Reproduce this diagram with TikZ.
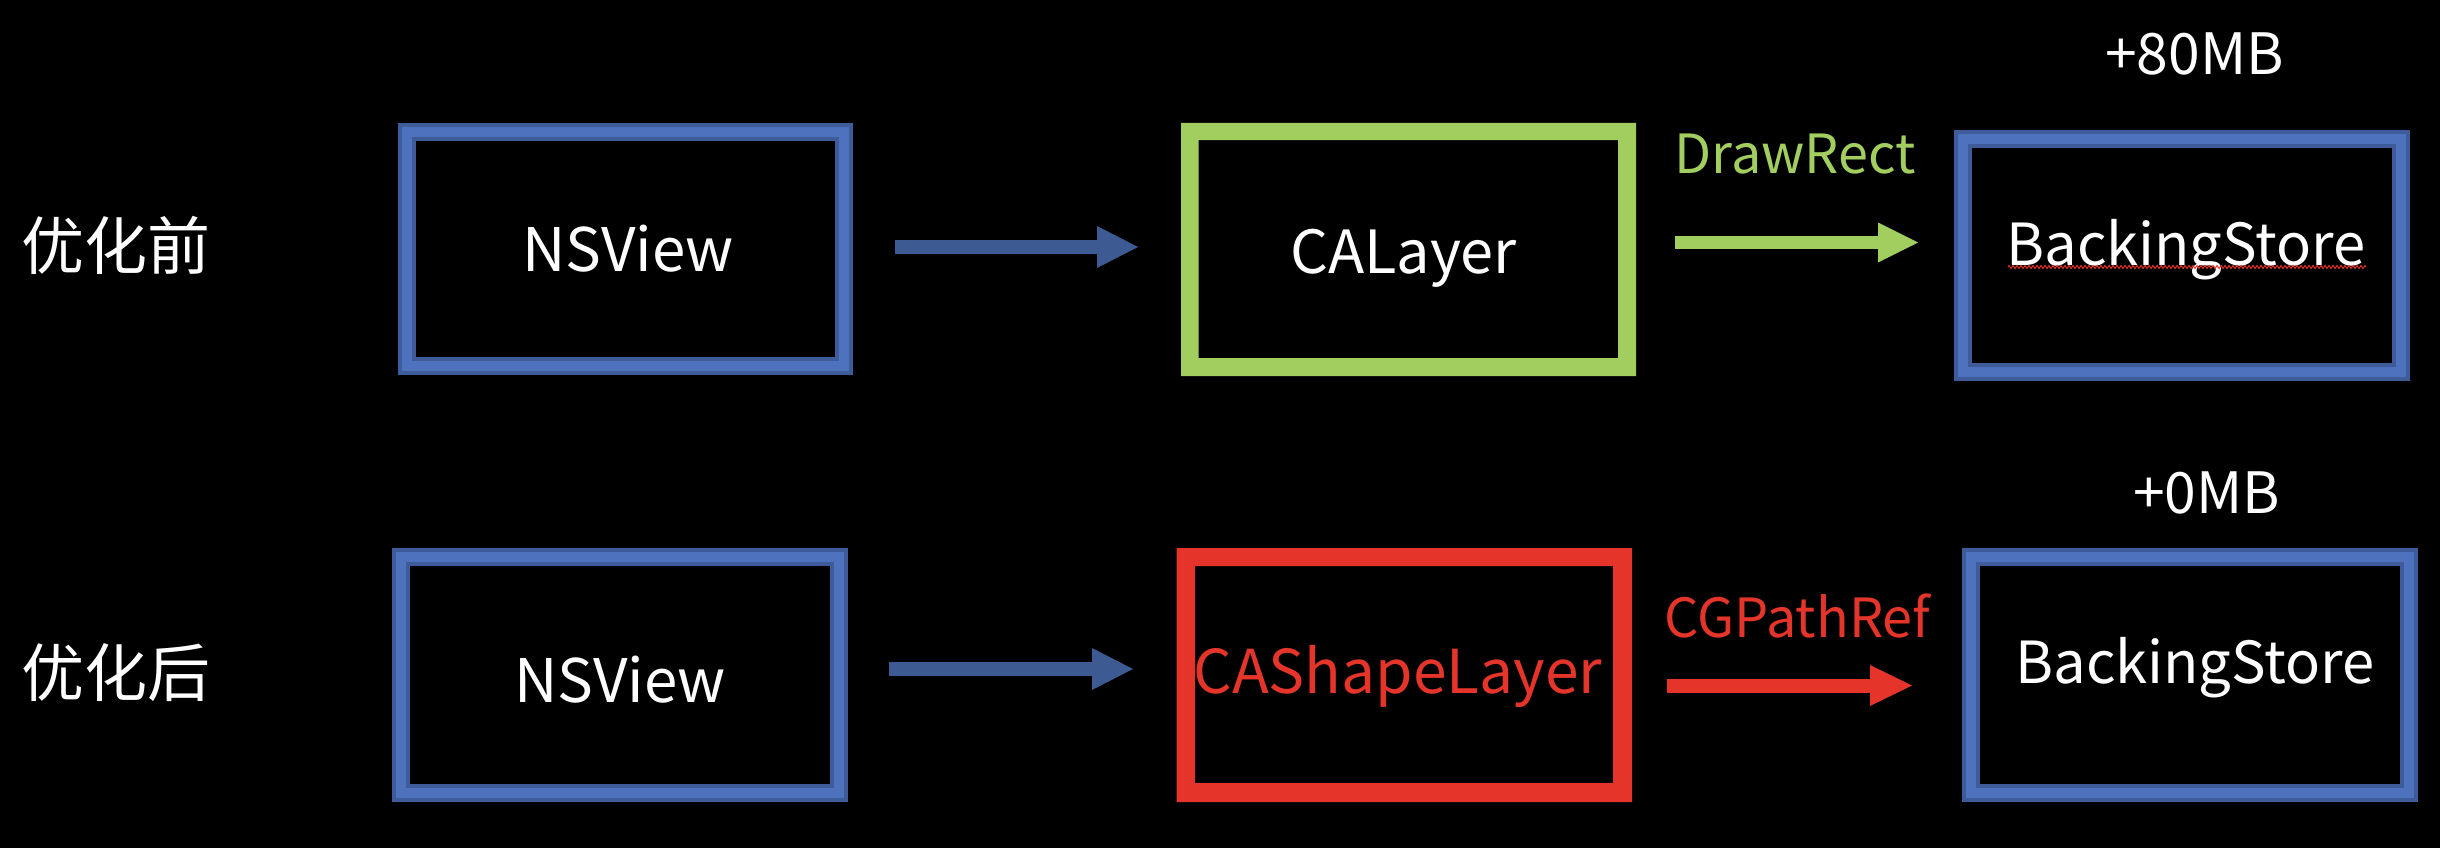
\documentclass[tikz,border=0pt]{standalone}
\usepackage{fontspec}
\setmainfont{Noto Sans CJK SC}
\usetikzlibrary{arrows.meta,decorations.pathmorphing}
\definecolor{boxblue}{HTML}{4F72BF}
\definecolor{boxbluedk}{HTML}{3E5C99}
\definecolor{arrblue}{HTML}{3D5A93}
\definecolor{grn}{HTML}{A2CD5F}
\definecolor{rd}{HTML}{E5352A}
\newcommand{\fs}[1]{\fontsize{#1}{#1}\selectfont}
\begin{document}
\begin{tikzpicture}[x=1pt,y=-1pt,
  bluebox/.style={rectangle, draw=boxbluedk, line width=4pt, double=boxblue,
    double distance=10pt, inner sep=0pt, outer sep=0pt, text=white, text depth=0pt},
  ringbox/.style={rectangle, inner sep=0pt, outer sep=0pt, text depth=0pt},
  barr/.style={draw=arrblue, line width=14pt, -{Triangle[length=41pt,width=42pt,line width=0pt]}},
  garr/.style={draw=grn, line width=13pt, -{Triangle[length=40pt,width=40pt,line width=0pt]}},
  rarr/.style={draw=rd, line width=14pt, -{Triangle[length=42pt,width=41pt,line width=0pt]}},
  rowlab/.style={text=white, font=\fs{63}, inner sep=0pt},
  toplab/.style={text=white, inner sep=0pt, anchor=base, font=\fs{57}}
]
\fill[black] (0,0) rectangle (2440,848);
\useasboundingbox (0,0) rectangle (2440,848);

% row labels
\node[rowlab] (r1) at (116,245) {优化前};
\node[rowlab] (r2) at (116,673) {优化后};

% top row
\node[bluebox, minimum width=437pt, minimum height=234pt, text height=45pt, font=\fs{60}]
  (nv1) at (625.5,249) {\kern5pt NSView};
\node[ringbox, minimum width=455pt, minimum height=253pt, text=white, text height=47pt, font=\fs{59.5}]
  (ca1) at (1408.5,249.5) {CALayer\kern10pt};
\fill[grn, even odd rule] (ca1.north west) rectangle (ca1.south east)
  ([xshift=17.5pt,yshift=-17pt]ca1.north west) rectangle ([xshift=-18pt,yshift=18pt]ca1.south east);
\node[bluebox, minimum width=438pt, minimum height=233pt, text height=43pt, text depth=24pt, font=\fs{58}]
  (bs1) at (2182,255.5) {\kern8pt BackingStore};
\draw[rd, line width=1pt, decorate, decoration={zigzag, amplitude=1.5pt, segment length=4pt}]
  ([xshift=-174pt,yshift=-11.5pt]bs1.center) -- ([xshift=184pt,yshift=-11.5pt]bs1.center);
\node[toplab] (m1) at (2194.5,75) {+80MB};

\draw[barr] ([xshift=51pt,yshift=2pt]nv1.east) -- ([xshift=-43pt,yshift=2.5pt]ca1.west);
\draw[garr] ([xshift=39pt,yshift=7pt]ca1.east) -- ([xshift=-45pt,yshift=13pt]bs1.west)
  node[midway, anchor=base, yshift=69.5pt, xshift=-1.5pt, text=grn, font=\fs{54}, inner sep=0pt] (t1) {DrawRect};

% bottom row
\node[bluebox, minimum width=438pt, minimum height=236pt, text height=54pt, font=\fs{60}]
  (nv2) at (620,675) {NSView};
\node[ringbox, minimum width=455.5pt, minimum height=254pt, text=rd, text height=44pt, text depth=8pt, font=\fs{60.5}]
  (cs2) at (1404.25,675) {CAShapeLayer\kern13pt};
\fill[rd, even odd rule] (cs2.north west) rectangle (cs2.south east)
  ([xshift=18.5pt,yshift=-18pt]cs2.north west) rectangle ([xshift=-19pt,yshift=19pt]cs2.south east);
\node[bluebox, minimum width=438pt, minimum height=236pt, text height=43pt, text depth=27pt, font=\fs{58}]
  (bs2) at (2190,675) {\kern10pt BackingStore};
\node[toplab] (m2) at (2206.5,513) {+0MB};

\draw[barr] ([xshift=50pt,yshift=6pt]nv2.east) -- ([xshift=-43.5pt,yshift=6pt]cs2.west);
\draw[rarr] ([xshift=35pt,yshift=-10.5pt]cs2.east) -- ([xshift=-59pt,yshift=-10.5pt]bs2.west)
  node[midway, anchor=base, yshift=48.5pt, xshift=8pt, text=rd, font=\fs{54}, inner sep=0pt] (t2) {CGPathRef};
\end{tikzpicture}
\end{document}
